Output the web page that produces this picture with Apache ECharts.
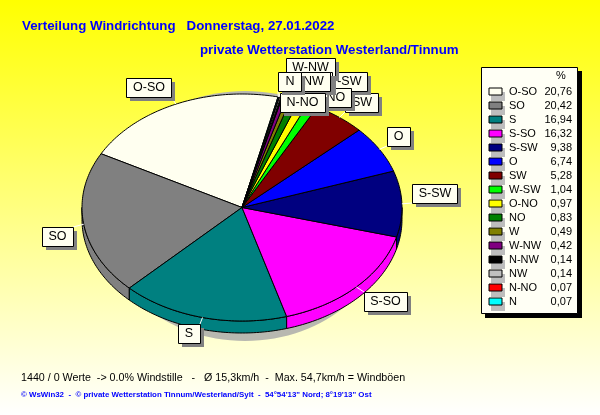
<!DOCTYPE html>
<html><head><meta charset="utf-8">
<style>html,body{margin:0;padding:0;background:#fff}#c{width:600px;height:415px}</style>
<script src="https://cdn.jsdelivr.net/npm/echarts@6/dist/echarts.min.js"></script>
</head><body><div id="c"></div>
<script>
const categories=['O-SO','SO','S','S-SO','S-SW','O','SW','W-SW','O-NO','NO','W','W-NW','N-NW','NW','N-NO','N'];
const values=[20.76,20.42,16.94,16.32,9.38,6.74,5.28,1.04,0.97,0.83,0.49,0.42,0.14,0.14,0.07,0.07];
const valueLabels=['20,76','20,42','16,94','16,32','9,38','6,74','5,28','1,04','0,97','0,83','0,49','0,42','0,14','0,14','0,07','0,07'];
const colors=['#FFFFF0','#808080','#008080','#FF00FF','#000080','#0000FF','#800000','#00FF00','#FFFF00','#008000','#808000','#800080','#000000','#C0C0C0','#FF0000','#00FFFF'];
// label box centres, one per category
const labelX=[148.5,57,188.5,385,434.5,398,361.5,343,328.5,313,313,310,308.5,313,302,289.5];
const labelY=[87.5,236.5,333.5,301.5,193.5,136.5,102.5,81.5,97,81.5,81.5,67.5,81.5,81.5,102.5,81.5];

const cx=242,cy=207.5,rx=160,ry=113.5,depth=12,startAngle=77;
const sum=values.reduce((a,b)=>a+b,0);
function pt(deg,dy){const r=deg*Math.PI/180;return [cx+rx*Math.cos(r),cy-ry*Math.sin(r)+(dy||0)];}
function startOf(i){let s=0;for(let k=0;k<i;k++)s+=values[k];return startAngle+s/sum*360;}
const mctx=document.createElement('canvas').getContext('2d');
mctx.font='12px "Liberation Sans"';
const labelFont='12.5px "Liberation Sans"';

function sliceSeries(i){
  return {type:'custom',name:categories[i],coordinateSystem:'none',silent:true,
    itemStyle:{color:colors[i]},data:[[values[i]]],z:3,
    renderItem(p,api){
      const a0=startOf(i),a1=a0+api.value(0)/sum*360;
      const face=[[cx,cy]];const children=[];
      const steps=Math.max(2,Math.ceil(a1-a0));
      for(let s=0;s<=steps;s++)face.push(pt(a0+(a1-a0)*s/steps));
      let w0=Math.max(a0,180),w1=Math.min(a1,360);
      if(w1>w0){
        const top=[],bot=[];const n=Math.max(2,Math.ceil(w1-w0));
        for(let s=0;s<=n;s++){const d=w0+(w1-w0)*s/n;top.push(pt(d));bot.push(pt(d,depth));}
        children.push({type:'polygon',shape:{points:top.concat(bot.reverse())},style:{fill:colors[i],stroke:'#000',lineWidth:1}});
      }
      children.push({type:'polygon',shape:{points:face},style:{fill:colors[i],stroke:'#000',lineWidth:1}});
      return {type:'group',children};
    }};
}
const labelSeries={type:'custom',name:'labels',coordinateSystem:'none',silent:true,z:5,
  data:categories.map((c,i)=>[i]),
  renderItem(p,api){
    const i=api.value(0),mid=startOf(i)+values[i]/sum*180,e=pt(mid);
    const w=Math.round(mctx.measureText(categories[i]).width)+14,h=19;
    const x=labelX[i],y=labelY[i],l=Math.round(x-w/2),t=Math.round(y-h/2);
    let best=null,bd=1e9;
    [[l,t],[l+w,t],[l,t+h],[l+w,t+h]].forEach(c=>{const d=Math.hypot(c[0]-e[0],c[1]-e[1]);if(d<bd){bd=d;best=c;}});
    return {type:'group',children:[
      {type:'line',shape:{x1:e[0],y1:e[1],x2:best[0],y2:best[1]},style:{stroke:'#FFFFFF',lineWidth:1}},
      {type:'rect',shape:{x:l+4,y:t+4,width:w,height:h},style:{fill:'#808080'}},
      {type:'rect',shape:{x:l+0.5,y:t+0.5,width:w,height:h},style:{fill:'#FFFFF0',stroke:'#000',lineWidth:1}},
      {type:'text',style:{x:x+0.5,y:y+0.5,text:categories[i],align:'center',verticalAlign:'middle',font:labelFont,fill:'#000'}}
    ]};
  }};

// legend panel and swatch shadows, drawn as one series under the legend
const panelSeries={type:'custom',name:'panel',coordinateSystem:'none',silent:true,z:1,
  data:[[0]],
  renderItem(){
    const kids=[
      {type:'rect',shape:{x:485,y:71,width:97,height:247},style:{fill:'#000'}},
      {type:'rect',shape:{x:481.5,y:67.5,width:96,height:246},style:{fill:'#FFFFF5',stroke:'#000',lineWidth:1}}
    ];
    categories.forEach((c,k)=>kids.push({type:'rect',shape:{x:491,y:92+14*k,width:14,height:9},style:{fill:'#BDBDBD'}}));
    return {type:'group',children:kids};
  }};

const chart=echarts.init(document.getElementById('c'),null,{renderer:'canvas'});
chart.setOption({
  animation:false,
  backgroundColor:{type:'linear',x:0,y:0,x2:0,y2:1,colorStops:[{offset:0,color:'#FFFF00'},{offset:1,color:'#FFFFFF'}]},
  graphic:[
    {type:'text',left:22,top:20,style:{text:'Verteilung Windrichtung   Donnerstag, 27.01.2022',font:'bold 13.3px "Liberation Sans"',fill:'#0000FF'}},
    {type:'text',left:200,top:44,style:{text:'private Wetterstation Westerland/Tinnum',font:'bold 13.3px "Liberation Sans"',fill:'#0000FF'}},
    {type:'text',left:21,top:373,style:{text:'1440 / 0 Werte  -> 0.0% Windstille   -   Ø 15,3km/h  -  Max. 54,7km/h = Windböen',font:'10.7px "Liberation Sans"',fill:'#000'}},
    {type:'text',left:21,top:391,style:{text:'© WsWin32  -  © private Wetterstation Tinnum/Westerland/Sylt  -  54°54\'13" Nord; 8°19\'13" Ost',font:'bold 7.9px "Liberation Sans"',fill:'#0000FF'}},
    {type:'ellipse',z:1,shape:{cx:245,cy:216,rx:145,ry:125},style:{fill:'#B8B8B0'}},
    {type:'text',z:6,left:556,top:70,style:{text:'%',font:'11px "Liberation Sans"',fill:'#000'}}
  ],
  legend:{orient:'vertical',left:488.5,top:85,padding:0,itemWidth:13,itemHeight:7,itemGap:0,
    data:categories,selectedMode:false,icon:'rect',z:7,
    itemStyle:{borderColor:'#000',borderWidth:1},
    formatter:n=>'{n|'+n+'}{v|'+valueLabels[categories.indexOf(n)]+'}',
    textStyle:{padding:[1,0,0,2],rich:{
      n:{width:35,height:14,lineHeight:14,fontSize:11,fontFamily:'Liberation Sans',color:'#000'},
      v:{width:28,height:14,lineHeight:14,align:'right',fontSize:11,fontFamily:'Liberation Sans',color:'#000'}}}},
  series:[panelSeries].concat(categories.map((c,i)=>sliceSeries(i)),[labelSeries])
});
</script></body></html>
